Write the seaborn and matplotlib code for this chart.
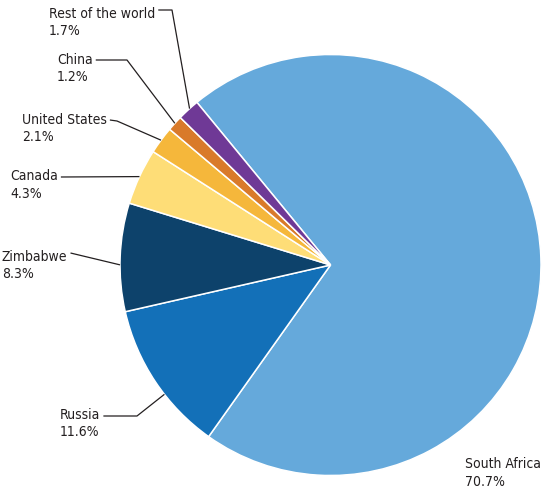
import numpy as np
import matplotlib
matplotlib.use('Agg')
import matplotlib.pyplot as plt
import seaborn as sns

countries = ["South Africa", "Russia", "Zimbabwe", "Canada", "United States", "China", "Rest of the world"]
shares = [70.7, 11.6, 8.3, 4.3, 2.1, 1.2, 1.7]
pct_labels = ["70.7%", "11.6%", "8.3%", "4.3%", "2.1%", "1.2%", "1.7%"]
colors = ["#65a9db", "#1370b8", "#0d426b", "#fedd77", "#f5b73b", "#d97a2a", "#6f3996"]

sns.set_theme(style="white")
plt.rcParams['font.family'] = ['DejaVu Sans']
plt.rcParams['font.stretch'] = 'condensed'

W, H = 544, 492
fig = plt.figure(figsize=(W / 100, H / 100), dpi=100)
ax = fig.add_axes([0, 0, 1, 1])

cx, cy, r = 330.5, H - 265, 210.5
wedges, _ = ax.pie(shares, colors=sns.color_palette(colors), startangle=129.4, counterclock=False,
                   center=(cx, cy), radius=r, frame=True,
                   wedgeprops=dict(edgecolor='white', linewidth=1.1))
ax.set_xlim(0, W)
ax.set_ylim(0, H)
ax.set_aspect('equal')
ax.axis('off')

# label layout in image pixels: text x, name baseline y, leader path, position in wedge
layout = {
    "South Africa": (465, 468, None, 0.5),
    "Russia": (60, 419, [(104, 416), (137, 416)], 0.4),
    "Zimbabwe": (2, 261, [(69, 253)], 0.43),
    "Canada": (10, 180, [(59, 177)], 0.5),
    "United States": (22, 123.5, [(108, 120), (117, 121)], 0.5),
    "China": (57, 63.5, [(94, 60), (127, 60)], 0.5),
    "Rest of the world": (49, 17.5, [(159, 10), (172, 10)], 0.57),
}

fs = 10
renderer = fig.canvas.get_renderer()
for w, name, pct in zip(wedges, countries, pct_labels):
    tx, by, path, frac = layout[name]
    t = ax.text(tx, H - by, name, fontsize=fs, ha='left', va='baseline', color='#231f20')
    ax.text(tx, H - by - 17.5, pct, fontsize=fs, ha='left', va='baseline', color='#231f20')
    if path is None:
        continue
    # leader starts just after the name, runs to the elbow, then into the wedge
    x_end = t.get_window_extent(renderer).x1 + 3
    ang = np.deg2rad(w.theta2 - frac * (w.theta2 - w.theta1))
    ax_pt = (cx + r * np.cos(ang), cy + r * np.sin(ang))
    pts = [(max(x_end, path[0][0] - 10) if len(path) > 1 else x_end, path[0][1])] + path[1:]
    xs = [p[0] for p in pts] + [ax_pt[0]]
    ys = [H - p[1] for p in pts] + [ax_pt[1]]
    ax.plot(xs, ys, color='#231f20', linewidth=0.9, solid_capstyle='butt')

fig.savefig("out.png", dpi=100)
